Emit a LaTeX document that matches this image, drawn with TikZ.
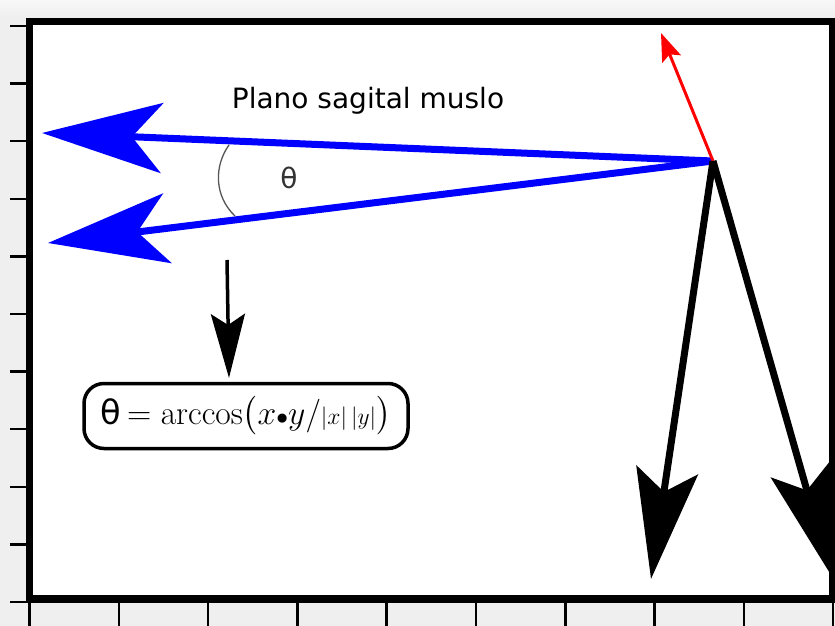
\RequirePackage{fix-cm}
\documentclass[tikz,border=0pt]{standalone}
\usepackage{amsmath}
\usepackage{graphicx}
\usepackage{fontspec}
\newfontfamily\dejavu{DejaVu Sans}
\usetikzlibrary{arrows.meta}
\definecolor{bggray}{HTML}{EFEFEF}
\definecolor{topgray}{HTML}{F8F8F8}
\definecolor{arcgray}{HTML}{555555}
\definecolor{labgray}{HTML}{333333}
\begin{document}
\begin{tikzpicture}[x=1pt,y=-1pt,
  frame/.style={line width=7.5pt},
  tick/.style={line width=2.5pt},
  bluearrow/.style={blue, line width=7pt, -{Stealth[length=120pt,width=70pt,inset=30pt]}},
  blackarrow/.style={black, line width=7pt, -{Stealth[length=110pt,width=62pt,inset=22pt]}},
  redarrow/.style={red, line width=3pt, -{Stealth[length=28pt,width=20pt,inset=5pt]}},
  downarrow/.style={black, line width=3.5pt, -{Stealth[length=64pt,width=34pt,inset=11pt]}},
  formula/.style={draw, line width=3.5pt, rounded corners=20pt, minimum width=324pt, minimum height=65pt, inner sep=0pt, font=\fontsize{26}{30}\selectfont},
  title/.style={font=\dejavu\fontsize{28}{34}\selectfont},
  thlabel/.style={text=labgray, font=\dejavu\fontsize{28}{34}\selectfont},
  anglearc/.style={arcgray, line width=1.3pt}
]
\useasboundingbox (0,0) rectangle (835,626);
\fill[bggray] (0,0) rectangle (835,626);
\shade[top color=topgray, bottom color=bggray] (0,0) rectangle (835,18);
\fill[white] (29.5,21.5) rectangle (833,599);
% ticks
\foreach \i in {0,...,10} \draw[tick] (10,26+57.6*\i) -- (27,26+57.6*\i);
\foreach \i in {0,...,9} \draw[tick] (29.5+89.3*\i,603) -- (29.5+89.3*\i,626);
% coordinates
\coordinate (O) at (713,161);
\coordinate (B1) at (42,133);
\coordinate (B2) at (48,243);
\coordinate (R) at (661,33);
\coordinate (K1) at (651,579);
\coordinate (K2) at (831,575);
\coordinate (D0) at (227,260);
\coordinate (D1) at (229,378);
\coordinate (A0) at (229,145);
\coordinate (A1) at (235,216);
% arrows
\draw[bluearrow] (O) -- (B1);
\draw[bluearrow] (O) -- (B2);
\draw[redarrow] (O) -- (R);
\draw[blackarrow] (O) -- (K1);
\draw[blackarrow] (O) -- (K2);
% frame
\draw[frame] (29.5,21.5) rectangle (833,599);
% labels
\node[title] (t) at (368,101) {Plano sagital muslo};
\node[thlabel] (th) at (289,178) {θ};
\draw[anglearc] (A0) .. controls (214,166) and (214,196) .. (A1);
\node[formula] (F) at (246,416) {\resizebox{290pt}{!}{{\dejavu θ}\,$=\arccos\bigl(x{\scriptstyle\bullet}y/{\scriptstyle|x|\,|y|}\bigr)$}};
\draw[downarrow] (D0) -- (D1);
\end{tikzpicture}
\end{document}
